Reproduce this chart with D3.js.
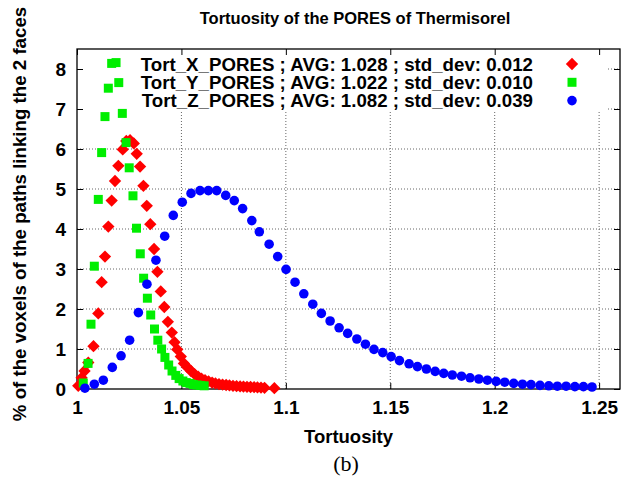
<!DOCTYPE html>
<html>
<head>
<meta charset="utf-8">
<script src="https://cdn.jsdelivr.net/npm/d3@7"></script>
<style>
  body { margin: 0; background: #fff; }
  svg { display: block; }
</style>
</head>
<body>
<script>
// data (tortuosity, % of voxels)
const xTortX = [1.0006, 1.0022, 1.0036, 1.0054, 1.0079, 1.0102, 1.0118, 1.0134, 1.0150, 1.0166,
  1.0182, 1.0198, 1.0219, 1.0236, 1.0254, 1.0272, 1.0286, 1.0302, 1.0318, 1.0334,
  1.0351, 1.0369, 1.0385, 1.0401, 1.0418, 1.0435, 1.0454, 1.0467, 1.0480, 1.0497,
  1.0512, 1.0529, 1.0546, 1.0563, 1.0580, 1.0596, 1.0613, 1.0630, 1.0647, 1.0663,
  1.0680, 1.0697, 1.0714, 1.0730, 1.0747, 1.0764, 1.0781, 1.0797, 1.0814, 1.0831,
  1.0848, 1.0864, 1.0881, 1.0898, 1.0945];
const yTortX = [0.08, 0.28, 0.45, 0.66, 1.07, 1.89, 2.67, 3.31, 4.06, 4.71,
  5.20, 5.58, 5.99, 6.20, 6.22, 6.14, 5.88, 5.56, 5.08, 4.58,
  4.12, 3.50, 2.93, 2.44, 2.05, 1.68, 1.41, 1.17, 0.99, 0.81,
  0.64, 0.54, 0.45, 0.37, 0.31, 0.26, 0.22, 0.19, 0.16, 0.14,
  0.12, 0.11, 0.10, 0.09, 0.08, 0.07, 0.065, 0.06, 0.055, 0.05,
  0.045, 0.04, 0.035, 0.03, 0.02];

const xTortY = [1.0030, 1.0053, 1.0067, 1.0083, 1.0102, 1.0118, 1.0134, 1.0150, 1.0166, 1.0187,
  1.0200, 1.0217, 1.0235, 1.0250, 1.0268, 1.0285, 1.0303, 1.0319, 1.0337, 1.0353,
  1.0371, 1.0387, 1.0405, 1.0421, 1.0439, 1.0455, 1.0473, 1.0489, 1.0507, 1.0523,
  1.0541, 1.0557, 1.0575, 1.0591, 1.0609];
const yTortY = [0.15, 0.64, 1.62, 3.07, 4.74, 5.91, 6.81, 7.52, 8.14, 8.16,
  7.66, 6.89, 6.16, 5.53, 4.83, 4.02, 3.38, 2.77, 2.27, 1.85,
  1.50, 1.22, 1.00, 0.79, 0.60, 0.45, 0.34, 0.26, 0.20, 0.16,
  0.14, 0.11, 0.10, 0.09, 0.08];

const xTortZ = [1.0038, 1.0083, 1.0126, 1.0169, 1.0211, 1.0252, 1.0294, 1.0335, 1.0378, 1.0420,
  1.0461, 1.0504, 1.0546, 1.0589, 1.0629, 1.0669, 1.0712, 1.0753, 1.0793, 1.0837,
  1.0873, 1.0920, 1.0961, 1.1001, 1.1044, 1.1086, 1.1129, 1.1170, 1.1212, 1.1255,
  1.1296, 1.1340, 1.1381, 1.1422, 1.1464, 1.1504, 1.1544, 1.1590, 1.1630, 1.1673,
  1.1715, 1.1756, 1.1797, 1.1841, 1.1882, 1.1924, 1.1965, 1.2007, 1.2048, 1.2091,
  1.2133, 1.2174, 1.2217, 1.2259, 1.2300, 1.2342, 1.2384, 1.2425, 1.2466];
const yTortZ = [0.02, 0.12, 0.22, 0.54, 0.83, 1.22, 1.91, 2.62, 3.22, 3.82,
  4.34, 4.67, 4.89, 4.96, 4.96, 4.96, 4.84, 4.71, 4.51, 4.21,
  3.93, 3.62, 3.31, 2.99, 2.67, 2.38, 2.12, 1.89, 1.70, 1.53,
  1.39, 1.25, 1.12, 0.99, 0.91, 0.81, 0.71, 0.63, 0.56, 0.50,
  0.44, 0.39, 0.35, 0.32, 0.28, 0.25, 0.22, 0.19, 0.17, 0.14,
  0.12, 0.11, 0.09, 0.08, 0.07, 0.07, 0.06, 0.06, 0.05];

const legendLabels = [
  "Tort_X_PORES ; AVG: 1.028 ; std_dev: 0.012",
  "Tort_Y_PORES ; AVG: 1.022 ; std_dev: 0.010",
  "Tort_Z_PORES ; AVG: 1.082 ; std_dev: 0.039"];

const xTicks = [1, 1.05, 1.1, 1.15, 1.2, 1.25];
const yTicks = [0, 1, 2, 3, 4, 5, 6, 7, 8];

const w = 636;
const h = 486;
const m = { top: 49, right: 16, bottom: 97, left: 77 };
const font = "'Liberation Sans', Arial, Helvetica, sans-serif";

const series = [
  { xs: xTortX, ys: yTortX, color: "#ff0000", shape: "diamond" },
  { xs: xTortY, ys: yTortY, color: "#00ee00", shape: "square" },
  { xs: xTortZ, ys: yTortZ, color: "#0000ff", shape: "circle" }];

const svg = d3.select("body").append("svg")
  .attr("width", w)
  .attr("height", h);

const x = d3.scaleLinear().domain([1, 1.26]).range([m.left, w - m.right]);
const y = d3.scaleLinear().domain([0, 8.5]).range([h - m.bottom, m.top]);

// dotted grid
const grid = svg.append("g").attr("class", "grid");

grid.selectAll("line.gx")
  .data(xTicks.slice(1))
  .join("line")
  .attr("class", "gx")
  .attr("x1", d => x(d)).attr("x2", d => x(d))
  .attr("y1", y(0)).attr("y2", m.top)
  .attr("stroke", "#666").attr("stroke-dasharray", "1,2");

grid.selectAll("line.gy")
  .data(yTicks.slice(1))
  .join("line")
  .attr("class", "gy")
  .attr("x1", x(1)).attr("x2", w - m.right)
  .attr("y1", d => y(d)).attr("y2", d => y(d))
  .attr("stroke", "#666").attr("stroke-dasharray", "1,2");

// opaque key area hides the grid under it
svg.append("rect")
  .attr("x", m.left)
  .attr("y", m.top)
  .attr("width", 530)
  .attr("height", 62)
  .attr("fill", "#fff");

// axes with inward ticks
const styleAxis = g => {
  g.select(".domain").remove();
  g.selectAll("line").attr("stroke", "#000");
  g.selectAll("text")
    .attr("fill", "#000")
    .style("font-family", font)
    .style("font-size", "19px")
    .style("font-weight", "bold");
};

svg.append("g")
  .attr("transform", `translate(0,${y(0)})`)
  .call(d3.axisBottom(x).tickValues(xTicks).tickSize(-6).tickPadding(12).tickFormat(d3.format("~g")))
  .call(styleAxis);

svg.append("g")
  .attr("transform", `translate(${x(1)},0)`)
  .call(d3.axisLeft(y).tickValues(yTicks).tickSize(-6).tickPadding(11))
  .call(styleAxis);

svg.append("g")
  .attr("transform", `translate(0,${m.top})`)
  .call(d3.axisTop(x).tickValues(xTicks).tickSize(-6).tickFormat(""))
  .call(styleAxis);

svg.append("g")
  .attr("transform", `translate(${w - m.right},0)`)
  .call(d3.axisRight(y).tickValues(yTicks).tickSize(-6).tickFormat(""))
  .call(styleAxis);

// border
svg.append("rect")
  .attr("x", m.left)
  .attr("y", m.top)
  .attr("width", w - m.right - m.left)
  .attr("height", h - m.bottom - m.top)
  .attr("fill", "none")
  .attr("stroke", "#000")
  .attr("stroke-width", 1.3);

const shapes = {
  diamond: d3.symbol().type(d3.symbolSquare).size(76),
  square: d3.symbol().type(d3.symbolSquare).size(81),
  circle: d3.symbol().type(d3.symbolCircle).size(72)
};

function place(s, px, py) {
  return s.shape === "diamond"
    ? `translate(${px},${py}) rotate(45)`
    : `translate(${px},${py})`;
}

// points
series.forEach(s => {
  svg.append("g")
    .selectAll("path")
    .data(s.xs.map((d, i) => [d, s.ys[i]]))
    .join("path")
    .attr("d", shapes[s.shape])
    .attr("transform", d => place(s, x(d[0]), y(d[1])))
    .attr("fill", s.color);
});

// legend
const legend = svg.append("g");
series.forEach((s, i) => {
  const ly = 64 + i * 18.3;
  legend.append("text")
    .attr("x", 533)
    .attr("y", ly)
    .attr("dy", "0.35em")
    .attr("text-anchor", "end")
    .style("font-family", font)
    .style("font-size", "18.7px")
    .style("font-weight", "bold")
    .text(legendLabels[i]);
  legend.append("path")
    .attr("d", shapes[s.shape])
    .attr("transform", place(s, 572, ly))
    .attr("fill", s.color);
});

// title and axis labels
svg.append("text")
  .attr("x", 355)
  .attr("y", 24)
  .attr("text-anchor", "middle")
  .style("font-family", font)
  .style("font-size", "16.5px")
  .style("font-weight", "bold")
  .text("Tortuosity of the PORES of Thermisorel");

svg.append("text")
  .attr("x", (x(1) + x(1.26)) / 2)
  .attr("y", 443)
  .attr("text-anchor", "middle")
  .style("font-family", font)
  .style("font-size", "18.5px")
  .style("font-weight", "bold")
  .text("Tortuosity");

svg.append("text")
  .attr("transform", `translate(26,${(y(0) + y(8.5)) / 2 - 5}) rotate(-90)`)
  .attr("text-anchor", "middle")
  .style("font-family", font)
  .style("font-size", "18.7px")
  .style("font-weight", "bold")
  .text("% of the voxels of the paths linking the 2 faces");

svg.append("text")
  .attr("x", 346)
  .attr("y", 471)
  .attr("text-anchor", "middle")
  .style("font-family", "'Liberation Serif', 'Times New Roman', serif")
  .style("font-size", "22px")
  .text("(b)");
</script>
</body>
</html>
